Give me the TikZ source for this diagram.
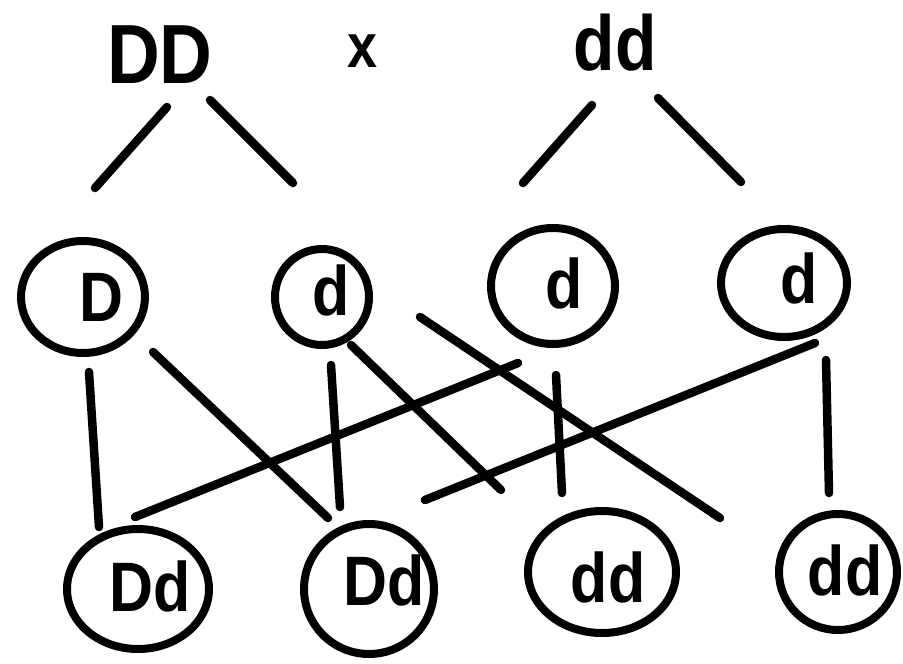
\documentclass[tikz,border=0pt]{standalone}
\usepackage{fontspec}
\setmainfont{Liberation Sans}[FakeStretch=0.87]
\usetikzlibrary{shapes.geometric}
\tikzset{
  cell/.style={draw, ellipse, line width=8pt, inner sep=0pt},
  lab/.style={anchor=base, inner sep=0pt, font=\bfseries\fontsize{70}{80}\selectfont},
  big/.style={anchor=base, inner sep=0pt, font=\bfseries\fontsize{84}{90}\selectfont},
  link/.style={line width=8.5pt, line cap=round},
}
\begin{document}
\begin{tikzpicture}[x=1pt,y=-1pt]
\useasboundingbox (0,0) rectangle (903,664);
% parents
\node[big] (P1) at (160,83) {DD};
\node[lab] (X) at (362,67) {\fontsize{62}{70}\selectfont x};
\node[big] (P2) at (615,70) {\fontsize{78}{80}\selectfont dd};
% gametes
\node[cell, minimum width=124pt, minimum height=112pt] (G1) at (83,297) {};
\node[cell, minimum width=94pt, minimum height=96pt] (G2) at (322,297) {};
\node[cell, minimum width=124pt, minimum height=116pt] (G3) at (553,286) {};
\node[cell, minimum width=126pt, minimum height=108pt] (G4) at (784,283) {};
\node[lab] (g1) at (101,321) {D};
\node[lab] (g2) at (331,315) {d};
\node[lab] (g3) at (564,308) {d};
\node[lab] (g4) at (799,303) {d};
% offspring
\node[cell, minimum width=142pt, minimum height=120pt] (O1) at (138,589) {};
\node[cell, minimum width=130pt, minimum height=130pt] (O2) at (369,589) {};
\node[cell, minimum width=148pt, minimum height=122pt] (O3) at (602,572) {};
\node[cell, minimum width=118pt, minimum height=116pt] (O4) at (838,572) {};
\node[lab] (o1) at (150,611) {Dd};
\node[lab] (o2) at (384,605) {Dd};
\node[lab] (o3) at (608,602) {dd};
\node[lab] (o4) at (845,595) {dd};
% connector end points
\coordinate (a1) at (167,107); \coordinate (a2) at (95,188);
\coordinate (b1) at (210,100); \coordinate (b2) at (293,183);
\coordinate (c1) at (592,105); \coordinate (c2) at (523,183);
\coordinate (d1) at (658,98);  \coordinate (d2) at (741,182);
\coordinate (e1) at (89,372);  \coordinate (e2) at (99,527);
\coordinate (f1) at (153,352); \coordinate (f2) at (328,518);
\coordinate (h1) at (331,365); \coordinate (h2) at (340,507);
\coordinate (i1) at (351,345); \coordinate (i2) at (501,490);
\coordinate (j1) at (420,317); \coordinate (j2) at (720,518);
\coordinate (k1) at (518,363); \coordinate (k2) at (135,517);
\coordinate (l1) at (556,375); \coordinate (l2) at (562,493);
\coordinate (m1) at (815,343); \coordinate (m2) at (425,500);
\coordinate (n1) at (826,360); \coordinate (n2) at (829,493);
\foreach \s in {a,b,c,d,e,f,h,i,j,k,l,m,n}
  \draw[link] (\s1) -- (\s2);
\end{tikzpicture}
\end{document}
